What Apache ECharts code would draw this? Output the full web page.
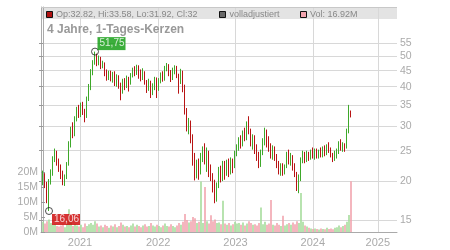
<!DOCTYPE html>
<html><head><meta charset="utf-8">
<script src="https://cdn.jsdelivr.net/npm/echarts@6/dist/echarts.min.js"></script>
<style>html,body{margin:0;padding:0;background:#fff}#c{width:450px;height:250px}</style>
</head><body><div id="c"></div>
<script>
// ---- data ----
const yearLabels = ['2021', '2022', '2023', '2024', '2025'];
const yearTickIndex = [18.5, 57.6, 96.25, 134.9, 167.4]; // candle-index position of each year start
const priceTicks = [15, 20, 25, 30, 35, 40, 45, 50, 55];
const volumeTicks = [0, 5, 10, 15, 20]; // millions
const priceRange = [13.765, 71.8];
const volumeRange = [0, 75];
// [open, close, low, high]
const ohlc = [
[19.8,20.8,19.4,21.6],[20.8,19.6,19.0,21.2],[19.6,18.2,17.0,19.9],[18.2,19.8,16.06,20.3],[19.8,21.0,19.5,21.8],
[21.2,23.5,20.8,24.0],[23.5,24.8,23.0,25.4],[24.8,23.2,22.4,25.0],[23.2,22.0,21.4,23.6],[22.0,21.2,20.3,22.6],
[21.2,20.0,19.4,21.6],[20.0,20.6,19.3,21.0],[20.6,22.6,20.3,23.0],[22.6,26.0,22.4,26.8],[26.0,29.0,25.6,29.8],
[29.0,28.0,27.4,30.8],[28.0,31.5,27.8,32.2],[31.5,33.5,31.0,34.5],[33.5,32.4,31.8,35.0],[32.4,34.8,32.0,35.6],
[34.8,33.0,32.5,35.8],[33.0,32.0,30.8,34.0],[32.0,36.5,31.8,37.2],[36.5,39.5,36.0,40.8],[39.5,44.0,39.0,45.5],
[44.0,47.5,43.5,48.6],[47.5,50.5,47.0,51.75],[50.5,48.0,46.5,51.0],[48.0,49.2,46.8,50.3],[49.2,46.5,45.5,49.8],
[46.5,47.5,45.8,48.4],[47.5,44.5,43.2,47.8],[44.5,42.8,41.8,45.4],[42.8,44.2,42.0,45.0],[44.2,42.5,41.6,45.0],
[42.5,43.8,41.2,44.6],[43.8,41.5,40.2,44.8],[41.5,43.0,40.0,43.8],[43.0,40.5,39.4,43.5],[40.5,38.8,36.2,41.2],
[38.8,41.8,38.0,42.4],[41.8,40.2,39.0,42.6],[40.2,42.6,39.6,43.4],[42.6,41.0,38.6,43.0],[41.0,43.4,40.6,44.2],
[43.4,45.2,42.8,46.0],[45.2,44.0,43.2,46.5],[44.0,46.2,43.6,47.0],[46.2,44.6,42.4,46.8],[44.6,42.8,41.6,45.4],
[42.8,44.2,42.0,45.8],[44.2,41.4,40.6,44.8],[41.4,39.8,38.2,42.0],[39.8,41.2,38.8,42.4],[41.2,38.2,36.8,41.8],
[38.2,40.2,37.6,41.0],[40.2,42.4,39.0,43.0],[42.4,39.6,36.8,42.8],[39.6,41.8,38.8,42.6],[41.8,43.6,41.0,44.4],
[43.6,42.2,41.5,44.8],[42.2,45.8,41.8,46.6],[45.8,47.0,44.8,47.6],[47.0,44.8,43.2,47.2],[44.8,42.6,41.4,45.2],
[42.6,45.0,42.0,46.0],[45.0,46.2,43.8,46.8],[46.2,43.5,42.6,46.6],[43.5,41.2,38.0,44.0],[41.2,44.6,40.8,45.6],
[44.6,40.0,38.4,45.0],[40.0,33.5,32.6,40.6],[33.5,29.8,28.8,34.2],[29.8,30.8,28.2,31.8],[30.8,27.6,26.4,31.2],
[27.6,23.8,22.4,28.2],[23.8,21.2,20.1,24.6],[21.2,22.8,20.4,23.4],[22.8,21.6,20.2,23.6],[21.6,23.8,21.0,24.6],
[23.8,25.2,23.0,25.8],[25.2,23.4,22.6,26.4],[23.4,24.6,21.4,25.6],[24.6,22.0,20.6,25.0],[22.0,20.8,20.0,22.6],
[20.8,19.6,18.4,21.2],[19.6,18.0,17.0,20.2],[18.0,19.4,17.2,19.8],[19.4,21.6,19.0,22.2],[21.6,20.4,19.8,22.4],
[20.4,22.6,20.0,23.2],[22.6,21.2,20.2,23.2],[21.2,22.8,20.8,23.4],[22.8,21.4,20.6,23.6],[21.4,23.0,21.0,23.8],
[23.0,22.2,21.2,23.6],[22.2,24.4,22.0,25.0],[24.4,25.6,24.0,26.2],[25.6,27.0,25.0,27.6],[27.0,26.0,25.4,28.0],
[26.0,28.4,25.8,29.0],[28.4,27.4,26.8,29.6],[27.4,30.4,27.0,31.0],[30.4,29.0,28.2,32.2],[29.0,26.4,25.8,29.4],
[26.4,27.6,25.2,28.2],[27.6,25.2,24.4,28.0],[25.2,24.2,23.2,26.2],[24.2,23.0,22.0,24.8],[23.0,24.6,22.2,25.2],
[24.6,26.6,24.2,27.4],[26.6,28.4,26.0,29.6],[28.4,27.0,25.6,29.2],[27.0,25.6,24.8,27.8],[25.6,24.2,23.6,26.4],
[24.2,25.4,23.4,26.0],[25.4,24.0,23.2,25.8],[24.0,22.6,22.0,24.4],[22.6,21.6,21.0,23.2],[21.6,22.4,20.8,22.8],
[22.4,21.4,20.8,22.8],[21.4,22.2,21.0,22.6],[22.2,24.2,22.0,24.8],[24.2,23.0,22.6,25.2],[23.0,24.0,22.4,24.6],
[24.0,22.4,21.6,24.2],[22.4,21.0,20.6,22.8],[21.0,19.2,18.6,21.4],[19.2,20.4,18.3,21.0],[20.4,23.2,20.0,23.8],
[23.2,24.2,22.8,25.0],[24.2,23.4,22.8,24.8],[23.4,24.4,23.0,25.0],[24.4,23.6,23.2,24.8],[23.6,24.6,23.4,25.2],
[24.6,24.0,23.6,25.6],[24.0,25.0,23.4,25.4],[25.0,24.2,23.6,25.4],[24.2,24.8,23.6,25.2],[24.8,24.0,23.8,25.6],
[24.0,25.4,23.8,25.8],[25.4,24.6,24.0,26.0],[24.6,25.8,24.2,26.2],[25.8,25.0,24.6,26.6],[25.0,24.2,23.8,25.6],
[24.2,23.6,23.0,24.6],[23.6,24.4,23.2,25.0],[24.4,24.8,23.6,25.4],[24.8,26.2,24.4,26.8],[26.2,25.4,25.0,27.2],
[25.4,26.0,24.8,26.6],[26.0,25.6,24.8,26.4],[25.6,28.6,25.4,29.4],[28.6,33.6,28.4,35.0],[32.82,32.0,31.92,33.58]
];
// volume in millions
const volumes = [
3.4,2.8,3.6,4.2,3.0,2.4,2.6,2.0,1.8,2.2,
2.4,1.6,2.8,7.6,3.2,2.0,2.6,2.2,1.8,2.4,
1.6,2.8,2.0,2.6,3.0,2.4,3.6,2.8,1.8,2.2,
1.6,2.4,2.0,1.4,2.2,1.8,2.6,1.6,2.0,3.2,
2.4,1.8,2.0,1.6,2.2,2.8,1.8,2.4,2.0,1.6,
2.2,2.6,1.8,2.0,3.0,2.2,1.8,2.4,2.0,1.6,
2.2,2.8,2.0,1.8,2.6,2.0,1.6,2.2,3.0,2.4,
3.4,6.0,4.0,3.2,3.6,5.0,4.6,3.0,3.4,16.8,
3.0,15.0,3.6,2.8,5.6,3.6,4.2,3.0,3.2,2.6,
10.4,2.8,2.4,3.0,2.2,2.6,3.4,2.8,3.0,2.4,
3.2,2.2,2.8,3.6,3.0,2.4,2.6,2.2,3.0,8.2,
2.6,3.4,2.4,2.8,10.7,2.4,2.2,3.0,2.4,2.0,
5.4,2.2,2.6,3.0,2.4,3.2,2.6,3.6,3.0,13.0,
3.4,2.2,1.8,1.4,1.2,1.0,1.2,1.0,0.8,1.2,
1.0,0.9,1.4,1.0,1.2,0.9,1.4,1.6,2.2,1.6,
2.0,2.4,3.4,5.7,16.92
];
const highMark = {index: 26, price: 51.75, text: '51,75'};
const lowMark = {index: 3, price: 16.06, text: '16,06'};
const titleText = '4 Jahre, 1-Tages-Kerzen';
const legendTexts = ['Op:32.82, Hi:33.58, Lo:31.92, Cl:32', 'volladjustiert', 'Vol: 16.92M'];

// ---- chart ----
const FONT = '"Liberation Sans", Arial, sans-serif';
const UP = '#3ea82a', DOWN = '#b81414';
const VUP = '#a6dc9c', VDOWN = '#f2a4ae';
const ln = Math.log;

const candleData = ohlc.map((r, i) => [i, ln(r[0]), ln(r[1]), ln(r[2]), ln(r[3])]);
const volData = volumes.map((v, i) => ({
  value: [i, v],
  itemStyle: {color: ohlc[i][1] >= ohlc[i][0] ? VUP : VDOWN}
}));

const chart = echarts.init(document.getElementById('c'), null, {renderer: 'canvas'});
const gl = 41, gr = 397, gt = 7, gb = 232;

chart.setOption({
  animation: false,
  textStyle: {fontFamily: FONT},
  grid: {left: gl, right: 450 - gr, top: gt, bottom: 250 - gb, containLabel: false},
  xAxis: {
    type: 'value', min: -1, max: 177,
    axisLine: {show: true, lineStyle: {color: '#aaa', width: 1}},
    axisTick: {show: false, customValues: yearTickIndex},
    axisLabel: {
      customValues: yearTickIndex, color: '#aaa', fontSize: 11, fontFamily: FONT, margin: 5,
      formatter: v => { const i = yearTickIndex.findIndex(t => Math.abs(t - v) < 1e-6); return i >= 0 ? yearLabels[i] : ''; }
    },
    splitLine: {show: true, lineStyle: {color: '#d8d8d8', width: 1}}
  },
  yAxis: [{
    type: 'value', position: 'right', min: ln(priceRange[0]), max: ln(priceRange[1]),
    axisLine: {show: true, lineStyle: {color: '#aaa', width: 1}},
    axisTick: {show: true, inside: true, length: 4, lineStyle: {color: '#999'}, customValues: priceTicks.map(ln)},
    axisLabel: {customValues: priceTicks.map(ln), color: '#aaa', fontSize: 10.5, fontFamily: FONT, margin: 3,
      formatter: v => String(Math.round(Math.exp(v)))},
    splitLine: {show: true, lineStyle: {color: '#d8d8d8', width: 1}}
  }, {
    type: 'value', position: 'left', min: volumeRange[0], max: volumeRange[1],
    axisLine: {show: true, lineStyle: {color: '#aaa', width: 1}},
    axisTick: {show: true, inside: true, length: 4, lineStyle: {color: '#999'}, customValues: volumeTicks},
    axisLabel: {customValues: volumeTicks, color: '#aaa', fontSize: 10.5, fontFamily: FONT, margin: 3,
      formatter: v => v + 'M'},
    splitLine: {show: false}
  }],
  series: [{
    type: 'bar', xAxisIndex: 0, yAxisIndex: 1, data: volData, barWidth: 1.6, z: 2, silent: true
  }, {
    type: 'candlestick', xAxisIndex: 0, yAxisIndex: 0, data: candleData, barWidth: 1.3, z: 3,
    itemStyle: {color: UP, color0: DOWN, borderColor: UP, borderColor0: DOWN, borderWidth: 1}
  }, {
    type: 'scatter', xAxisIndex: 0, yAxisIndex: 0, z: 5, symbol: 'circle', symbolSize: 7,
    itemStyle: {color: 'rgba(255,255,255,0)', borderColor: '#222', borderWidth: 1},
    data: [{
      value: [highMark.index, ln(highMark.price)],
      label: {show: true, position: 'inside', offset: [16.5, -8], formatter: highMark.text,
        backgroundColor: '#0a9a0a', color: '#fff', fontSize: 10, fontFamily: FONT, padding: [1, 1, 1, 2], lineHeight: 11}
    }, {
      value: [lowMark.index, ln(lowMark.price)],
      label: {show: true, position: 'inside', offset: [17, 8.5], formatter: lowMark.text,
        backgroundColor: '#cc0000', color: '#fff', fontSize: 10, fontFamily: FONT, padding: [0, 1, 0, 2], lineHeight: 11}
    }]
  }],
  graphic: [
    {type: 'rect', z: -1, shape: {x: gl, y: gt, width: gr - gl, height: 12}, style: {fill: '#e3e3e3'}, silent: true},
    {type: 'line', z: 1, shape: {x1: gl, y1: gt + 0.5, x2: gr, y2: gt + 0.5}, style: {stroke: '#c8c8c8', lineWidth: 1}, silent: true},
    {type: 'rect', z: 10, shape: {x: 46.5, y: 11.5, width: 6, height: 6}, style: {fill: '#b01010', stroke: '#111', lineWidth: 1}},
    {type: 'text', z: 10, x: 56, y: 15, style: {text: legendTexts[0], fill: '#888', font: '9px ' + FONT, verticalAlign: 'middle'}},
    {type: 'rect', z: 10, shape: {x: 219.5, y: 11.5, width: 6, height: 6}, style: {fill: '#666', stroke: '#111', lineWidth: 1}},
    {type: 'text', z: 10, x: 229.5, y: 15, style: {text: legendTexts[1], fill: '#888', font: '9px ' + FONT, verticalAlign: 'middle'}},
    {type: 'rect', z: 10, shape: {x: 300.5, y: 11.5, width: 6, height: 6}, style: {fill: '#f2a4ae', stroke: '#111', lineWidth: 1}},
    {type: 'text', z: 10, x: 310, y: 15, style: {text: legendTexts[2], fill: '#888', font: '9px ' + FONT, verticalAlign: 'middle'}},
    {type: 'text', z: 10, x: 47, y: 30, style: {text: titleText, fill: '#999', font: 'bold 12px ' + FONT, verticalAlign: 'middle'}}
  ]
});
</script>
</body></html>
